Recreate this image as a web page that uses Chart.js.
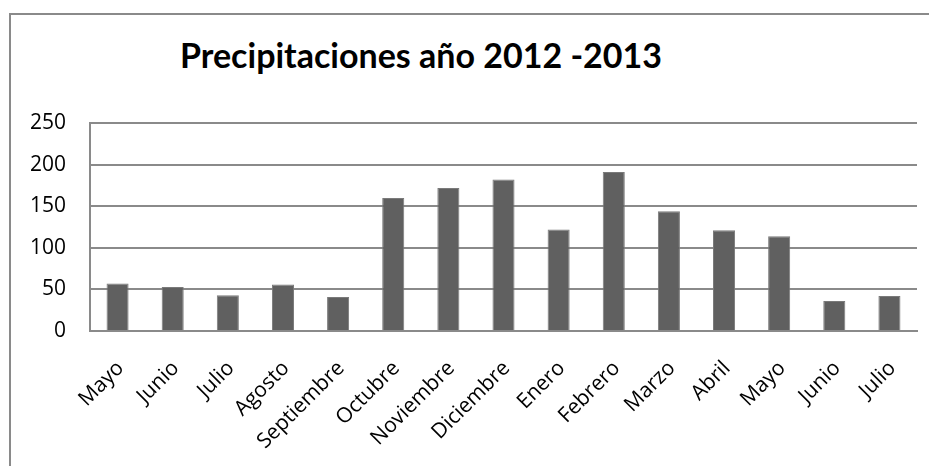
<!DOCTYPE html>
<html>
<head>
<meta charset="utf-8">
<script src="https://cdn.jsdelivr.net/npm/chart.js@4"></script>
<style>
  html, body { margin: 0; padding: 0; background: #fff; overflow: hidden; }
  #wrap { position: relative; width: 929px; height: 466px; overflow: hidden; }
  #frame {
    position: absolute; left: 9px; top: 13px; width: 960px; height: 500px;
    border: 2px solid #8a8a8a; box-sizing: border-box;
  }
  #title {
    position: absolute; left: 0; width: 842px; top: 35px; text-align: center;
    font: 700 34px Lato, sans-serif; color: #000; line-height: 40px;
  }
  canvas { position: absolute; left: 0; top: 0; }
</style>
</head>
<body>
<div id="wrap">
  <div id="frame"></div>
  <div id="title">Precipitaciones año 2012 -2013</div>
  <canvas id="chart" width="929" height="466"></canvas>
</div>
<script>
/* global Chart */

const months = ['Mayo', 'Junio', 'Julio', 'Agosto', 'Septiembre', 'Octubre', 'Noviembre',
  'Diciembre', 'Enero', 'Febrero', 'Marzo', 'Abril', 'Mayo', 'Junio', 'Julio'];
const rainfall = [57, 53, 43, 56, 41, 160, 172, 182, 122, 191, 144, 121, 114, 36, 42];
const yTicks = [0, 50, 100, 150, 200, 250];

const labelFont = { family: '"Open Sans", sans-serif', size: 21 };

function createChart(context) {
  return new Chart(context, {
    type: 'bar',
    data: {
      labels: months,
      datasets: [{
        data: rainfall,
        backgroundColor: '#606060',
        borderColor: '#7a7a7a',
        borderWidth: 1,
        barPercentage: 0.4,
        categoryPercentage: 1
      }]
    },
    options: {
      responsive: false,
      animation: false,
      layout: { padding: { top: 123, right: 12, left: 0, bottom: 0 } },
      plugins: { legend: { display: false }, tooltip: { enabled: false } },
      scales: {
        x: {
          grid: { display: false },
          border: { color: '#8a8a8a', width: 2 },
          ticks: {
            color: '#000',
            font: labelFont,
            minRotation: 45,
            maxRotation: 45,
            padding: 17,
            labelOffset: 3
          },
          afterFit: scale => { scale.height = 135; }
        },
        y: {
          min: 0,
          max: 250,
          afterBuildTicks: scale => { scale.ticks = yTicks.map(value => ({ value })); },
          grid: { color: '#8a8a8a', lineWidth: 2, drawTicks: false },
          border: { color: '#8a8a8a', width: 2 },
          ticks: { color: '#000', font: labelFont, padding: 24 },
          afterFit: scale => { scale.width = 90; }
        }
      }
    }
  });
}

createChart(document.getElementById('chart').getContext('2d'));
</script>
</body>
</html>
